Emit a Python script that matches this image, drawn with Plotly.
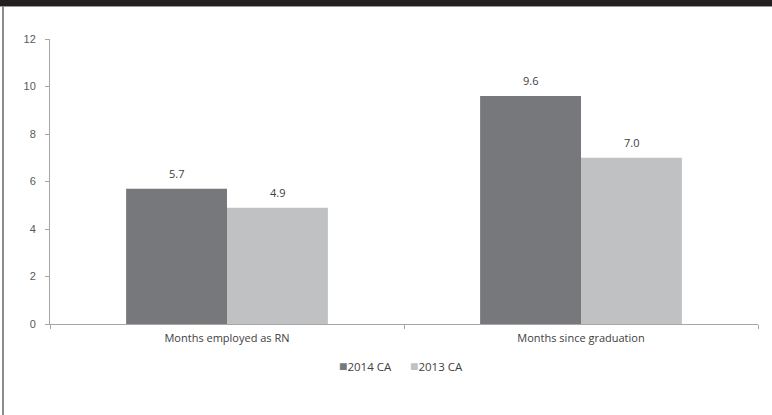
import plotly.graph_objects as go

categories = ["Months employed as RN", "Months since graduation"]
series_names = ["2014 CA", "2013 CA"]
values_2014 = [5.7, 9.6]
values_2013 = [4.9, 7.0]
y_ticks = [0, 2, 4, 6, 8, 10, 12]

colors = ["#77787b", "#c0c1c3"]
FONT = "Open Sans"
TXT = "#404040"

fig = go.Figure()
all_vals = [values_2014, values_2013]
for name, vals, col in zip(series_names, all_vals, colors):
    fig.add_trace(go.Bar(
        x=categories, y=vals, name=name, marker=dict(color=col, line=dict(width=0)),
        showlegend=False,
    ))

# value labels above bars
annotations = []
offsets = [-50.5, 50.5]
for vals, dx in zip(all_vals, offsets):
    for cat, v in zip(categories, vals):
        annotations.append(dict(x=cat, y=v, xref="x", yref="y", text=f"{v:.1f}",
                                showarrow=False, xshift=dx, yanchor="bottom", yshift=6,
                                font=dict(family=FONT, size=11, color=TXT)))

# legend as text
legend_x = [0.446, 0.546]
for name, col, lx in zip(series_names, colors, legend_x):
    annotations.append(dict(x=lx, y=-0.144, xref="paper", yref="paper", xanchor="center",
                            yanchor="middle", showarrow=False,
                            text=f'<span style="color:{col};font-size:14px">■</span>{name}',
                            font=dict(family=FONT, size=11.5, color=TXT)))

fig.update_layout(
    width=772, height=415,
    margin=dict(l=50, r=14, t=39, b=91),
    paper_bgcolor="white", plot_bgcolor="white",
    barmode="group", bargap=0.43, bargroupgap=0,
    font=dict(family=FONT, size=11, color=TXT),
    showlegend=False,
    annotations=annotations,
    xaxis=dict(showline=True, linecolor="#a6a6a6", linewidth=1, ticks="outside",
               tickson="boundaries", ticklen=4, tickcolor="#a6a6a6", ticklabelstandoff=4,
               tickfont=dict(family=FONT, size=11, color=TXT), showgrid=False),
    yaxis=dict(range=[0, 12], tickvals=y_ticks, showline=True, linecolor="#a6a6a6",
               linewidth=1, ticks="outside", ticklen=4, tickcolor="#a6a6a6", ticklabelstandoff=7,
               tickfont=dict(family="Liberation Sans", size=11, color="#595959"),
               showgrid=False, zeroline=False),
    shapes=[
        dict(type="rect", xref="paper", yref="paper", x0=-50/708, x1=1+14/708,
             y0=1+33/285, y1=1+39/285, fillcolor="#231f20", line=dict(width=0), layer="above"),
        dict(type="line", xref="paper", yref="paper", x0=-50/708, x1=1+14/708,
             y0=1+32.5/285, y1=1+32.5/285, line=dict(color="#9a9a9a", width=1)),
        dict(type="line", xref="paper", yref="paper", x0=-47/708, x1=-47/708,
             y0=-91/285, y1=1+33/285, line=dict(color="#8c8c8c", width=2)),
    ],
)

fig.write_html("out.html")
